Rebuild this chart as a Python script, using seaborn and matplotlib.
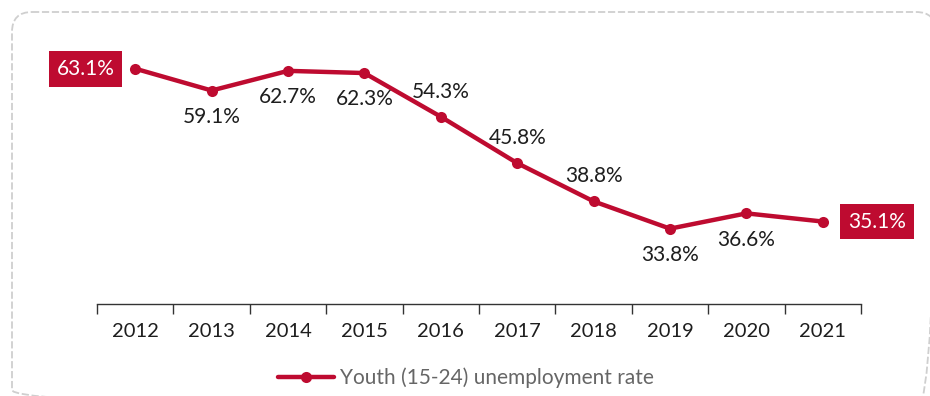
import matplotlib
matplotlib.use("Agg")
import matplotlib.pyplot as plt
from matplotlib.patches import FancyBboxPatch
from matplotlib.lines import Line2D
import seaborn as sns
import pandas as pd

years = ["2012", "2013", "2014", "2015", "2016", "2017", "2018", "2019", "2020", "2021"]
rates = [63.1, 59.1, 62.7, 62.3, 54.3, 45.8, 38.8, 33.8, 36.6, 35.1]
label_side = ["left", "below", "below", "below", "above", "above", "above", "below", "below", "right"]
series_name = "Youth (15-24) unemployment rate"

RED = "#BE0B30"
TEXT = "#1e1e1e"

sns.set_theme(style="white")
plt.rcParams["font.family"] = ["Lato", "DejaVu Sans"]

df = pd.DataFrame({"year": years, "rate": rates, "pos": range(len(years))})

fig = plt.figure(figsize=(9.3, 3.96), dpi=100)

# dashed rounded frame, drawn in pixel coordinates on a background axes
bg = fig.add_axes([0, 0, 1, 1], zorder=-1)
bg.set_xlim(0, 930)
bg.set_ylim(396, 0)
bg.axis("off")
frame = FancyBboxPatch((32, 32), 884, 358, boxstyle="round,pad=20,rounding_size=20",
                       fill=False, edgecolor="#cfcfcf", linewidth=1.3, linestyle=(0, (4, 1.5)))
bg.add_patch(frame)

ax = fig.add_axes([97 / 930, 92 / 396, 764 / 930, 273 / 396])
sns.lineplot(data=df, x="pos", y="rate", ax=ax, color=RED, linewidth=3.2,
             marker="o", markersize=8, markeredgewidth=0, legend=False)

ax.set_xlim(-0.5, len(years) - 0.5)
ax.set_ylim(20, 70)
ax.set_xlabel("")
ax.set_ylabel("")
ax.set_yticks([])
for s in ["top", "right", "left"]:
    ax.spines[s].set_visible(False)
ax.spines["bottom"].set_color("#333333")
ax.spines["bottom"].set_linewidth(1.0)

ax.set_xticks(range(len(years)))
ax.set_xticklabels(years, fontsize=14.5, color=TEXT)
ax.set_xticks([i - 0.5 for i in range(len(years) + 1)], minor=True)
ax.tick_params(axis="x", which="major", bottom=False, length=0, pad=14)
ax.tick_params(axis="x", which="minor", bottom=True, length=7, width=1.0,
               color="#333333", direction="out")

for i, (v, side) in enumerate(zip(rates, label_side)):
    txt = f"{v:.1f}%"
    if side == "left":
        ax.annotate(txt, (i, v), xytext=(-15, 0), textcoords="offset points",
                    ha="right", va="center", fontsize=15, color="white",
                    bbox=dict(boxstyle="square,pad=0.38", facecolor=RED, edgecolor="none"))
    elif side == "right":
        ax.annotate(txt, (i, v), xytext=(18, 0), textcoords="offset points",
                    ha="left", va="center", fontsize=15, color="white",
                    bbox=dict(boxstyle="square,pad=0.38", facecolor=RED, edgecolor="none"))
    elif side == "above":
        ax.annotate(txt, (i, v), xytext=(0, 18), textcoords="offset points",
                    ha="center", va="center", fontsize=15, color=TEXT)
    else:
        ax.annotate(txt, (i, v), xytext=(0, -19), textcoords="offset points",
                    ha="center", va="center", fontsize=15, color=TEXT)

handle = Line2D([], [], color=RED, linewidth=3.2, marker="o", markersize=8, markeredgewidth=0)
fig.legend([handle], [series_name], loc="center", bbox_to_anchor=(466 / 930, 1 - 378 / 396),
           frameon=False, fontsize=15, labelcolor="#666666", handlelength=2.7,
           handletextpad=0.3)

fig.savefig("out.png", dpi=100, facecolor="white")
